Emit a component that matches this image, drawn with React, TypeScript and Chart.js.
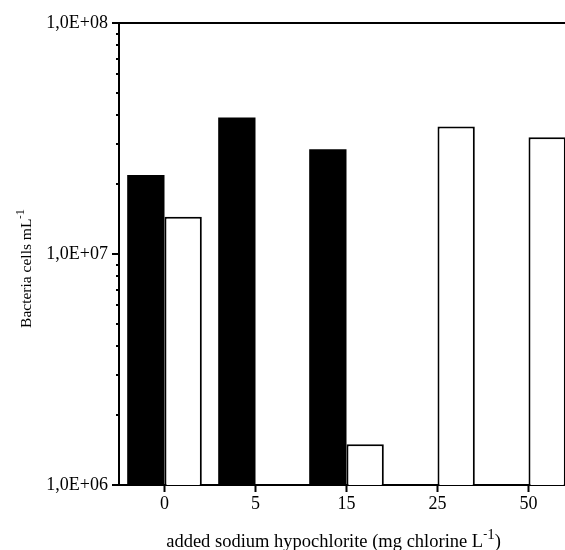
import React, { useEffect, useRef } from 'react';
import { Chart, registerables } from 'chart.js';

Chart.register(...registerables);

const CATEGORIES = ['0', '5', '15', '25', '50'];
const SERIES_BLACK = [2.2e7, 3.9e7, 2.84e7, null, null];
const SERIES_WHITE = [1.45e7, null, 1.5e6, 3.56e7, 3.2e7];
const Y_TICKS = [
  1e6, 2e6, 3e6, 4e6, 5e6, 6e6, 7e6, 8e6, 9e6,
  1e7, 2e7, 3e7, 4e7, 5e7, 6e7, 7e7, 8e7, 9e7,
  1e8,
];
const Y_LABELS: Record<string, string> = {
  '1000000': '1,0E+06',
  '10000000': '1,0E+07',
  '100000000': '1,0E+08',
};
const X_TITLE_MAIN = 'added sodium hypochlorite (mg chlorine L';
const X_TITLE_END = ')';
const Y_TITLE_MAIN = 'Bacteria cells mL';
const SUP_MINUS = '-';
const SUP_ONE = '1';
const Y_MIN = 1e6;
const Y_MAX = 1e8;

const FONT = "'Liberation Serif', 'Times New Roman', serif";

const isMajor = (v: number) => Y_LABELS[String(v)] !== undefined;

type Part = { text: string; size: number; rise: number };

function drawRich(ctx: CanvasRenderingContext2D, parts: Part[], cx: number) {
  let total = 0;
  const widths = parts.map((p) => {
    ctx.font = `${p.size}px ${FONT}`;
    const w = ctx.measureText(p.text).width;
    total += w;
    return w;
  });
  let x = cx - total / 2;
  ctx.textAlign = 'left';
  ctx.textBaseline = 'alphabetic';
  parts.forEach((p, i) => {
    ctx.font = `${p.size}px ${FONT}`;
    ctx.fillText(p.text, x, -p.rise);
    x += widths[i];
  });
}

const titlesPlugin = {
  id: 'titlesAndMinorTicks',
  afterDraw(chart: any) {
    const s = chart.scales.y;
    const ctx = chart.ctx as CanvasRenderingContext2D;
    ctx.save();
    ctx.strokeStyle = '#000';
    ctx.lineWidth = 2;
    s.ticks.forEach((t: any) => {
      if (isMajor(t.value)) return;
      const y = Math.round(s.getPixelForValue(t.value));
      ctx.beginPath();
      ctx.moveTo(s.right - 3, y);
      ctx.lineTo(s.right + 1, y);
      ctx.stroke();
    });
    ctx.fillStyle = '#000';

    // x-axis title
    ctx.save();
    ctx.translate(0, 547);
    drawRich(
      ctx,
      [
        { text: X_TITLE_MAIN, size: 18.5, rise: 0 },
        { text: SUP_MINUS, size: 12, rise: 9 },
        { text: SUP_ONE, size: 15, rise: 8 },
        { text: X_TITLE_END, size: 18.5, rise: 0 },
      ],
      333.5
    );
    ctx.restore();

    // y-axis title
    ctx.save();
    ctx.translate(31, 268.5);
    ctx.rotate(-Math.PI / 2);
    drawRich(
      ctx,
      [
        { text: Y_TITLE_MAIN, size: 15.5, rise: 0 },
        { text: SUP_MINUS, size: 10, rise: 8 },
        { text: SUP_ONE, size: 12.5, rise: 7 },
      ],
      0
    );
    ctx.restore();

    ctx.restore();
  },
};

export default function App() {
  const ref = useRef<HTMLCanvasElement | null>(null);

  useEffect(() => {
    if (!ref.current) return;
    const chart = new Chart(ref.current, {
      type: 'bar',
      data: {
        labels: CATEGORIES,
        datasets: [
          {
            data: SERIES_BLACK as any,
            backgroundColor: '#000',
            borderColor: '#000',
            borderWidth: 0,
            categoryPercentage: 0.82,
            barPercentage: 1.0,
          },
          {
            data: SERIES_WHITE as any,
            backgroundColor: '#fff',
            borderColor: '#000',
            borderWidth: 2,
            categoryPercentage: 0.82,
            barPercentage: 1.0,
          },
        ],
      },
      options: {
        animation: false,
        responsive: false,
        maintainAspectRatio: false,
        layout: { padding: { top: 23, left: 0, right: 0, bottom: 0 } },
        plugins: {
          legend: { display: false },
          tooltip: { enabled: false },
        },
        scales: {
          x: {
            type: 'category',
            offset: true,
            afterFit: (scale: any) => {
              scale.height = 65;
            },
            border: { display: true, color: '#000', width: 2 },
            grid: {
              display: true,
              drawOnChartArea: false,
              drawTicks: true,
              tickLength: 7,
              tickWidth: 2,
              tickColor: '#000',
              offset: false,
            },
            ticks: {
              color: '#000',
              padding: 1,
              font: { family: FONT, size: 18 },
              maxRotation: 0,
            },
            title: { display: false },
          },
          y: {
            type: 'logarithmic',
            min: Y_MIN,
            max: Y_MAX,
            afterFit: (scale: any) => {
              scale.width = 119;
            },
            afterBuildTicks: (scale: any) => {
              scale.ticks = Y_TICKS.map((v) => ({ value: v }));
            },
            border: { display: true, color: '#000', width: 2 },
            grid: {
              display: true,
              drawOnChartArea: true,
              drawTicks: true,
              tickLength: 7,
              lineWidth: 2,
              tickWidth: 2,
              color: (ctx: any) =>
                ctx.tick && ctx.tick.value === Y_MAX ? '#000' : 'rgba(0,0,0,0)',
              tickColor: (ctx: any) =>
                ctx.tick && isMajor(ctx.tick.value) ? '#000' : 'rgba(0,0,0,0)',
            },
            ticks: {
              color: '#000',
              padding: 4,
              autoSkip: false,
              font: { family: FONT, size: 18 },
              callback: (v: any) => Y_LABELS[String(v)] || '',
            },
            title: { display: false },
          },
        },
      },
      plugins: [titlesPlugin],
    });
    return () => chart.destroy();
  }, []);

  return (
    <div
      style={{
        position: 'absolute',
        left: 0,
        top: 0,
        width: 565,
        height: 550,
        overflow: 'hidden',
        background: '#fff',
      }}
    >
      <canvas ref={ref} width={574} height={550} style={{ display: 'block' }} />
    </div>
  );
}
